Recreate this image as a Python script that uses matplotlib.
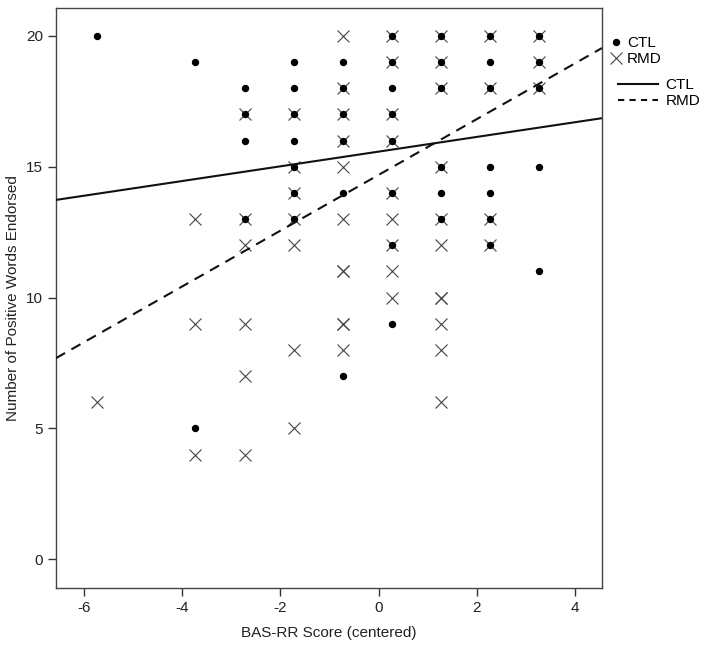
import matplotlib
matplotlib.use("Agg")
import matplotlib.pyplot as plt
from matplotlib.lines import Line2D
import numpy as np

plt.rcParams['font.family'] = ['Liberation Sans', 'DejaVu Sans']
plt.rcParams['axes.unicode_minus'] = False

# CTL observations, listed column by column (BAS-RR score -> words endorsed)
ctl_cols = {
    -5.73: [20],
    -3.73: [19, 5],
    -2.73: [18, 17, 16, 13],
    -1.73: [19, 18, 17, 16, 15, 14, 13],
    -0.73: [19, 18, 17, 16, 14, 7],
    0.27: [20, 19, 18, 17, 16, 14, 12, 9],
    1.27: [20, 19, 18, 15, 14, 13],
    2.27: [20, 19, 18, 15, 14, 13, 12],
    3.27: [20, 19, 18, 15, 11],
}
# RMD observations
rmd_cols = {
    -5.73: [6],
    -3.73: [13, 9, 4],
    -2.73: [17, 13, 12, 9, 7, 4],
    -1.73: [17, 15, 14, 13, 12, 8, 5],
    -0.73: [20, 18, 17, 16, 15, 13, 11, 11, 9, 9, 8],
    0.27: [20, 19, 17, 16, 14, 13, 12, 11, 10],
    1.27: [20, 19, 18, 15, 13, 12, 10, 10, 9, 8, 6],
    2.27: [20, 18, 13, 12],
    3.27: [20, 19, 18],
}
ctl_x = [k for k, v in ctl_cols.items() for _ in v]
ctl_y = [y for v in ctl_cols.values() for y in v]
rmd_x = [k for k, v in rmd_cols.items() for _ in v]
rmd_y = [y for v in rmd_cols.values() for y in v]

# fitted regression lines (intercept, slope)
ctl_fit = (15.58, 0.281)
rmd_fit = (14.69, 1.066)

xticks = [-6, -4, -2, 0, 2, 4]
yticks = [0, 5, 10, 15, 20]

fig = plt.figure(figsize=(7.04, 6.47), dpi=100)
ax = fig.add_axes([56/704, 59/647, 546/704, 580/647])

ax.plot(rmd_x, rmd_y, linestyle='none', marker='x', markersize=8.5,
        markeredgewidth=0.8, color='#444444', zorder=2)
ax.plot(ctl_x, ctl_y, linestyle='none', marker='o', markersize=4.3,
        color='black', zorder=3)

xlim = (-6.57, 4.55)
xx = np.array(xlim)
ax.plot(xx, ctl_fit[0] + ctl_fit[1]*xx, color='#111111', lw=1.5, zorder=4)
ax.plot(xx, rmd_fit[0] + rmd_fit[1]*xx, color='#111111', lw=1.5,
        linestyle=(0, (5, 3.5)), zorder=4)

ax.set_xlim(*xlim)
ax.set_ylim(-1.1, 21.07)
ax.set_xticks(xticks)
ax.set_yticks(yticks)
ax.tick_params(direction='out', length=6, width=1, color='#333333',
               labelsize=11, labelcolor='#222222')
for s in ax.spines.values():
    s.set_color('#444444')
    s.set_linewidth(1)

ax.set_xlabel('BAS-RR Score (centered)', fontsize=11, color='#222222', labelpad=8)
ax.set_ylabel('Number of Positive Words Endorsed', fontsize=11, color='#222222')
ax.yaxis.set_label_coords(-0.066, 0.5)

h1 = [Line2D([], [], linestyle='none', marker='o', markersize=4.3, color='black'),
      Line2D([], [], linestyle='none', marker='x', markersize=8.5,
             markeredgewidth=0.8, color='#444444')]
fig.legend(h1, ['CTL', 'RMD'], loc='upper left',
           bbox_to_anchor=(604/704, 1 - 30/647), frameon=False,
           fontsize=11, handlelength=0.8, handletextpad=0.3,
           labelspacing=0.15, borderaxespad=0)
h2 = [Line2D([], [], color='#111111', lw=1.5),
      Line2D([], [], color='#111111', lw=1.5, linestyle=(0, (3, 2.5)))]
fig.legend(h2, ['CTL', 'RMD'], loc='upper left',
           bbox_to_anchor=(612/704, 1 - 72/647), frameon=False,
           fontsize=11, handlelength=2.6, handletextpad=0.5,
           labelspacing=0.15, borderaxespad=0)

fig.savefig('out.png', dpi=100)
